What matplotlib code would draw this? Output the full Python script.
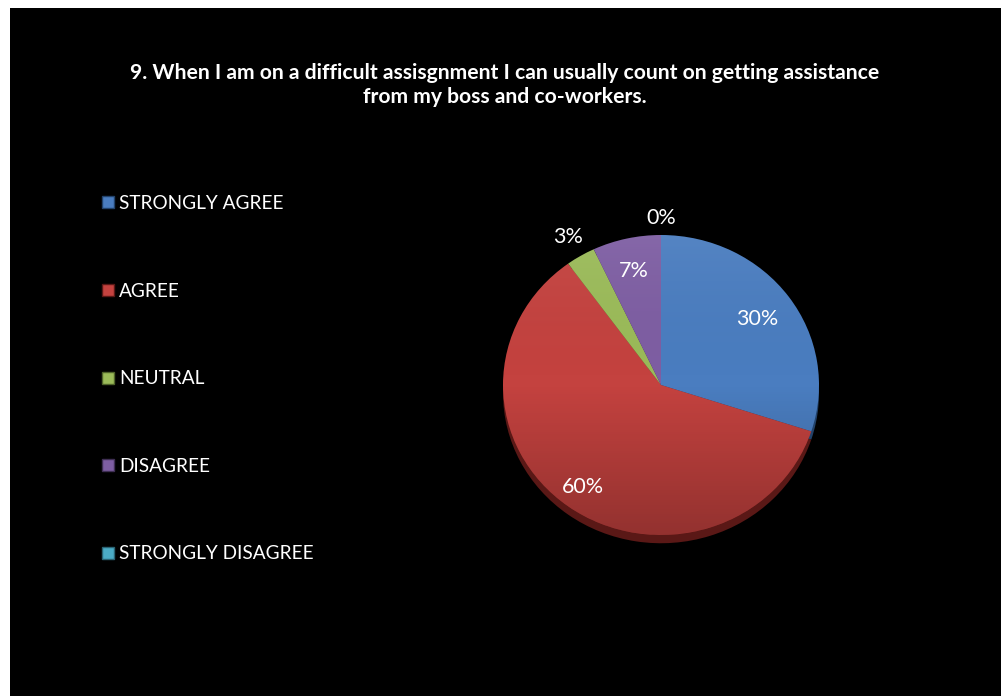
import numpy as np
import matplotlib
matplotlib.use("Agg")
import matplotlib.pyplot as plt
from matplotlib.patches import Rectangle, Circle
from matplotlib.lines import Line2D
from matplotlib.colors import LinearSegmentedColormap

# Survey responses (percent of respondents)
categories = ["STRONGLY AGREE", "AGREE", "NEUTRAL", "DISAGREE", "STRONGLY DISAGREE"]
shares = [30, 60, 3, 7, 0]
pct_labels = ["30%", "60%", "3%", "7%", "0%"]
title = ("9. When I am on a difficult assisgnment I can usually count on getting assistance\n"
         "from my boss and co-workers.")

colors = ["#4a7dc0", "#c4423f", "#9bbb59", "#7e5ea3", "#4bacc6"]
dark_colors = ["#22426a", "#5a1816", "#4f632a", "#3f2f54", "#2a6373"]
label_radius = [0.75, 0.84, 1.15, 0.78, 1.11]

W, H = 1003, 696
fig = plt.figure(figsize=(W / 100, H / 100), dpi=100)
fig.patch.set_facecolor("white")

# black chart area
fig.add_artist(Rectangle((10 / W, 0), (1001 - 10) / W, (H - 8) / H,
                         transform=fig.transFigure, facecolor="black",
                         edgecolor="none", zorder=0))

font = "Lato"
fig.text(505 / W, 1 - 85 / H, title, ha="center", va="center", color="white",
         fontsize=15.2, fontweight="bold", family=font, linespacing=1.2)

# pie axes: slightly flattened ellipse
cx, cy, rx, ry = 661, 385, 158, 150
ax = fig.add_axes([(cx - rx) / W, (H - cy - ry) / H, 2 * rx / W, 2 * ry / H])

# depth rim underneath
ax.pie(shares, colors=dark_colors, startangle=90, counterclock=False,
       center=(0, -0.055), radius=1.0, frame=True,
       wedgeprops=dict(linewidth=0))
wedges, _ = ax.pie(shares, colors=colors, startangle=90, counterclock=False,
                   radius=1.0, frame=True, wedgeprops=dict(linewidth=0))
ax.set_aspect("auto")
ax.set_xlim(-1, 1)
ax.set_ylim(-1, 1)
ax.axis("off")

# soft top-to-bottom shading over the pie
yy = np.linspace(0, 1, 256).reshape(-1, 1)
shade = LinearSegmentedColormap.from_list(
    "shade", [(0, 0, 0, 0.25), (0, 0, 0, 0.0), (1, 1, 1, 0.06)])
img = ax.imshow(yy, extent=[-1, 1, -1, 1], origin="lower", cmap=shade,
                aspect="auto", zorder=5, interpolation="bicubic")
img.set_clip_path(Circle((0, 0), 1.0, transform=ax.transData))

for w, lab, r in zip(wedges, pct_labels, label_radius):
    mid = np.deg2rad((w.theta1 + w.theta2) / 2)
    ax.text(r * np.cos(mid), r * np.sin(mid), lab, ha="center", va="center",
            color="white", fontsize=15.5, family=font, zorder=10)

# legend
handles = [Line2D([], [], marker="s", linestyle="none", markersize=9.3,
                  markerfacecolor=c, markeredgecolor=d, markeredgewidth=1)
           for c, d in zip(colors, dark_colors)]
leg = fig.legend(handles, categories, loc="upper left",
                 bbox_to_anchor=(99 / W, 1 - 195 / H), frameon=False,
                 labelspacing=3.71, handletextpad=0.15, handlelength=0.9,
                 prop=dict(family=font, size=13.7), labelcolor="white",
                 borderpad=0, borderaxespad=0)

fig.savefig("out.png", dpi=100, facecolor=fig.get_facecolor())
